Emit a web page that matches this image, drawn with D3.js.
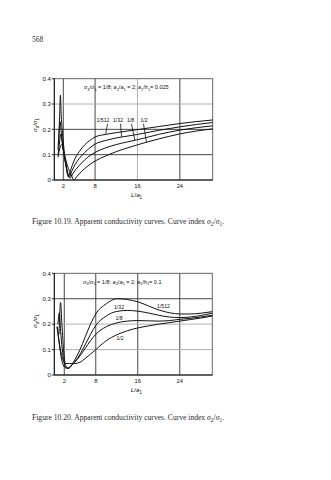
<!DOCTYPE html>
<html>
<head>
<meta charset="utf-8">
<script src="https://cdn.jsdelivr.net/npm/d3@7"></script>
<style>
  html, body { margin: 0; padding: 0; background: #fff; }
  svg { display: block; }
</style>
</head>
<body>
<svg id="page" width="331" height="480"></svg>
<script>
// ---- data -------------------------------------------------------------
const curveLabels = ["1/512", "1/32", "1/8", "1/2"];
const xTicks = [2, 8, 16, 24];
const yTicks = [0, 0.1, 0.2, 0.3, 0.4];
const yTickLabels = ["0", "0.1", "0.2", "0.3", "0.4"];

// Fig. 10.19: a1/h1 = 0.025  ([L/a1, σa/σ1] pairs)
const fig19_512 = [[1.1,0.14],[1.3,0.25],[1.45,0.335],[1.6,0.26],[2,0.15],[2.5,0.06],[2.95,0.013],[3.4,0.04],[4,0.075],[5,0.112],[6,0.138],[7,0.156],[8,0.17],[10,0.18],[12,0.187],[14,0.193],[16,0.199],[20,0.211],[24,0.223],[30.2,0.237]];
const fig19_32  = [[1.0,0.12],[1.25,0.2],[1.4,0.23],[1.6,0.19],[2,0.12],[2.5,0.055],[3.1,0.01],[3.6,0.035],[4.2,0.06],[5,0.085],[6,0.108],[7,0.127],[8,0.142],[10,0.156],[12,0.166],[14,0.173],[16,0.18],[20,0.196],[24,0.21],[30.2,0.227]];
const fig19_8   = [[1.0,0.1],[1.3,0.15],[1.5,0.18],[1.7,0.16],[2,0.12],[2.6,0.05],[3.3,0.008],[3.8,0.025],[4.5,0.045],[5.5,0.068],[6.5,0.088],[8,0.109],[10,0.127],[12,0.14],[14,0.15],[16,0.159],[20,0.18],[24,0.197],[30.2,0.214]];
const fig19_2   = [[1.0,0.09],[1.4,0.13],[1.7,0.14],[2.1,0.11],[2.8,0.055],[3.5,0.02],[4.0,0.0],[4.5,0.012],[5.5,0.035],[6.5,0.053],[8,0.075],[10,0.095],[12,0.112],[14,0.126],[16,0.139],[20,0.162],[24,0.182],[30.2,0.202]];

// Fig. 10.20: a1/h1 = 0.1
const fig20_512 = [[1.0,0.16],[1.3,0.285],[1.55,0.2],[1.9,0.09],[2.3,0.035],[2.8,0.026],[3.3,0.035],[4,0.06],[5,0.1],[6,0.15],[7,0.2],[8,0.24],[10,0.28],[12,0.3],[14,0.297],[16,0.288],[18,0.272],[20,0.256],[22,0.245],[24,0.24],[26,0.24],[28,0.243],[30.2,0.249]];
const fig20_32  = [[0.8,0.2],[1.05,0.245],[1.35,0.16],[1.8,0.07],[2.3,0.03],[2.8,0.027],[3.5,0.04],[4.3,0.06],[5.5,0.1],[7,0.16],[8,0.195],[10,0.232],[12,0.25],[14,0.254],[16,0.251],[18,0.244],[20,0.235],[22,0.228],[24,0.226],[26,0.228],[28,0.234],[30.2,0.243]];
const fig20_8   = [[0.6,0.19],[1.0,0.13],[1.5,0.06],[2,0.032],[2.6,0.026],[3.2,0.035],[4,0.05],[5,0.075],[6,0.105],[7,0.135],[8,0.16],[10,0.19],[12,0.205],[14,0.212],[16,0.214],[18,0.213],[20,0.212],[22,0.214],[24,0.219],[26,0.223],[28,0.228],[30.2,0.235]];
const fig20_2   = [[0.7,0.19],[1.1,0.12],[1.6,0.07],[2.3,0.045],[3,0.045],[4,0.045],[5,0.05],[6,0.065],[7,0.082],[8,0.1],[10,0.135],[12,0.158],[14,0.174],[16,0.185],[18,0.193],[20,0.2],[22,0.206],[24,0.212],[26,0.218],[28,0.224],[30.2,0.232]];

// ---- helpers ----------------------------------------------------------
const svg = d3.select("#page");
const SANS = "'Liberation Sans', Arial, sans-serif";
const SERIF = "'Liberation Serif', 'DejaVu Serif', serif";

// Writes a run of text parts: [string, flags] where flags may contain
// "i" (italic) and "s" (subscript).
function richText(g, x, y, parts, opts) {
  const t = g.append("text")
    .attr("x", x).attr("y", y)
    .attr("font-family", opts.family)
    .attr("font-size", opts.size)
    .attr("fill", opts.fill || "#111")
    .attr("text-anchor", opts.anchor || "start");
  if (opts.transform) t.attr("transform", opts.transform);
  let down = false;
  parts.forEach(([s, f = ""]) => {
    const sub = f.includes("s");
    const sp = t.append("tspan").text(s);
    if (f.includes("i")) sp.attr("font-style", "italic");
    if (sub) sp.attr("font-size", opts.size * 0.72);
    if (sub && !down) { sp.attr("dy", opts.size * 0.28); down = true; }
    else if (!sub && down) { sp.attr("dy", -opts.size * 0.28); down = false; }
  });
  return t;
}

function valueAt(series, x) {
  for (let i = 1; i < series.length; i++) {
    const [x0, y0] = series[i - 1], [x1, y1] = series[i];
    if (x <= x1) return y0 + (y1 - y0) * (x - x0) / (x1 - x0);
  }
  return series[series.length - 1][1];
}

function drawPanel(p) {
  const g = svg.append("g");
  const x = d3.scaleLinear().domain(p.xDomain).range([p.left, p.right]);
  const y = d3.scaleLinear().domain([0, 0.4]).range([p.bottom, p.top]);

  // grid
  const grid = g.append("g").attr("stroke-width", 0.9);
  xTicks.forEach(v => grid.append("line")
    .attr("x1", x(v)).attr("x2", x(v)).attr("y1", p.top).attr("y2", p.bottom)
    .attr("stroke", p.grayX.includes(v) ? "#a8a8a8" : "#333"));
  yTicks.slice(1, -1).forEach(v => grid.append("line")
    .attr("x1", p.left).attr("x2", p.right).attr("y1", y(v)).attr("y2", y(v))
    .attr("stroke", p.grayY.includes(v) ? "#a8a8a8" : "#333"));

  // frame
  g.append("rect")
    .attr("x", p.left).attr("y", p.top)
    .attr("width", p.right - p.left).attr("height", p.bottom - p.top)
    .attr("fill", "none").attr("stroke", "#555").attr("stroke-width", 0.9);
  g.append("line").attr("x1", p.left).attr("x2", p.left)
    .attr("y1", p.top).attr("y2", p.bottom).attr("stroke", "#111").attr("stroke-width", 1);
  g.append("line").attr("x1", p.left).attr("x2", p.right)
    .attr("y1", p.bottom).attr("y2", p.bottom).attr("stroke", "#111").attr("stroke-width", 1);

  // y axis ticks and labels
  yTicks.forEach((v, i) => {
    g.append("line").attr("x1", p.left - 2.5).attr("x2", p.left)
      .attr("y1", y(v)).attr("y2", y(v)).attr("stroke", "#111").attr("stroke-width", 0.9);
    g.append("text").attr("x", p.left - 3.5).attr("y", y(v) + 2.2)
      .attr("text-anchor", "end").attr("font-family", SANS).attr("font-size", 6)
      .attr("fill", "#111").text(yTickLabels[i]);
  });
  // x tick labels
  xTicks.forEach(v => {
    g.append("text").attr("x", x(v)).attr("y", p.bottom + 7.5)
      .attr("text-anchor", "middle").attr("font-family", SANS).attr("font-size", 5.8)
      .attr("fill", "#111").text(v);
  });

  // axis titles
  richText(g, (p.left + p.right) / 2 + 3, p.bottom + 17,
    [["L", "i"], ["/", ""], ["a", "i"], ["1", "s"]],
    { family: SANS, size: 6.2, anchor: "middle" });
  richText(g, 0, 0,
    [["σ", "i"], ["a", "s"], ["/", ""], ["σ", "i"], ["1", "s"]],
    { family: SANS, size: 6.2, anchor: "middle",
      transform: `translate(${p.left - 17},${p.yLabelY}) rotate(-90)` });

  // panel heading
  richText(g, p.titleX, p.top + 10.5,
    [["σ", "i"], ["3", "s"], ["/", ""], ["σ", "i"], ["1", "s"], [" = 1/8;  ", ""],
     ["a", "i"], ["2", "s"], ["/", ""], ["a", "i"], ["1", "s"], [" = 2;  ", ""],
     ["a", "i"], ["1", "s"], ["/", ""], ["h", "i"], ["1", "s"], [p.ratio, ""]],
    { family: SANS, size: 5.5, anchor: "start" });

  // curves
  const line = d3.line().x(d => x(d[0])).y(d => y(d[1])).curve(d3.curveMonotoneX);
  g.append("g").selectAll("path").data(p.series).join("path")
    .attr("d", line).attr("fill", "none").attr("stroke", "#111")
    .attr("stroke-width", 1).attr("stroke-linejoin", "round");

  // curve index labels (with optional leader lines)
  p.labels.forEach((lb, i) => {
    g.append("text").attr("x", lb.tx).attr("y", lb.ty)
      .attr("text-anchor", "middle").attr("font-family", SANS).attr("font-size", 5.2)
      .attr("fill", "#111").text(curveLabels[i]);
    if (lb.lx != null) {
      g.append("line")
        .attr("x1", lb.sx).attr("y1", lb.ty + 1.8)
        .attr("x2", x(lb.lx)).attr("y2", y(valueAt(p.series[i], lb.lx)))
        .attr("stroke", "#111").attr("stroke-width", 0.8);
    }
  });

  // caption
  richText(svg, 32, p.captionY,
    [[p.caption, ""], ["σ", "i"], ["2", "s"], ["/", ""], ["σ", "i"], ["1", "s"], [".", ""]],
    { family: SERIF, size: 7.6, fill: "#2a2a2a" });
}

// page number
svg.append("text").attr("x", 32).attr("y", 41.5)
  .attr("font-family", SERIF).attr("font-size", 7.4).attr("fill", "#2a2a2a").text("568");

drawPanel({
  xDomain: [0.3, 30.2], left: 54.3, right: 212.7, top: 78.7, bottom: 180,
  grayX: [16], grayY: [0.3], yLabelY: 125, titleX: 84, ratio: "= 0.025",
  series: [fig19_512, fig19_32, fig19_8, fig19_2],
  labels: [
    { tx: 103, ty: 122, sx: 107.5, lx: 10 },
    { tx: 118, ty: 122, sx: 120.5, lx: 13 },
    { tx: 130.5, ty: 122, sx: 131.5, lx: 15.5 },
    { tx: 144, ty: 122, sx: 143.5, lx: 17.7 }
  ],
  caption: "Figure 10.19. Apparent conductivity curves. Curve index ",
  captionY: 224
});

drawPanel({
  xDomain: [0.1, 30.2], left: 54.3, right: 212.3, top: 273.3, bottom: 375,
  grayX: [], grayY: [0.2, 0.1], yLabelY: 321, titleX: 83, ratio: "= 0.1",
  series: [fig20_512, fig20_32, fig20_8, fig20_2],
  labels: [
    { tx: 163.5, ty: 307.5 },
    { tx: 119, ty: 309 },
    { tx: 119, ty: 320 },
    { tx: 120, ty: 340 }
  ],
  caption: "Figure 10.20. Apparent conductivity curves. Curve index ",
  captionY: 420
});
</script>
</body>
</html>
